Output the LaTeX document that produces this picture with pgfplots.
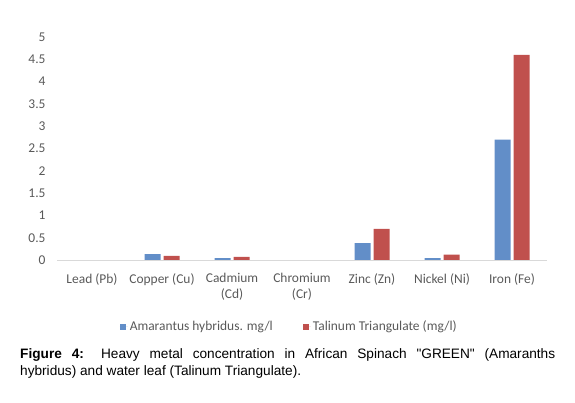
\documentclass[border=0pt]{standalone}
\usepackage{pgfplots}
\pgfplotsset{compat=1.18}
\usepackage{fontspec}
\setmainfont{Carlito}
\newfontfamily\arialfont{Liberation Sans}
\definecolor{barblue}{RGB}{98,142,200}
\definecolor{barred}{RGB}{192,80,77}
\definecolor{txtgray}{RGB}{89,89,89}
\definecolor{axgray}{RGB}{217,217,217}
\begin{document}
\begin{tikzpicture}
\path[use as bounding box] (0bp,0bp) rectangle (575bp,403bp);
\begin{axis}[
    at={(57bp,143bp)}, anchor=south west,
    scale only axis,
    width=490bp, height=223bp,
    xmin=-0.5, xmax=6.5,
    ymin=0, ymax=5,
    ytick={0,0.5,...,5},
    xtick={0,...,6},
    xticklabels={Lead (Pb), Copper (Cu), {Cadmium\\(Cd)}, {Chromium\\(Cr)}, Zinc (Zn), Nickel (Ni), Iron (Fe)},
    ybar=3bp, bar width=16bp,
    y filter/.expression={y==0 ? nan : y},
    separate axis lines,
    axis x line*=bottom, axis y line*=left,
    x axis line style={draw=axgray, line width=0.8bp, -},
    y axis line style={draw=none},
    major tick length=0pt,
    tick style={draw=none},
    font=\fontsize{13.5}{16}\selectfont,
    /pgf/number format/assume math mode=true,
    yticklabel style={text=txtgray, xshift=-8bp},
    xticklabel style={text=txtgray, align=center, anchor=north, yshift=-10bp},
    legend style={at={(0.474,-0.255)}, anchor=north, draw=none, fill=none,
        legend columns=2, text=txtgray,
        /tikz/every even column/.append style={column sep=28bp}},
    legend image code/.code={\fill[#1, draw=none] (0bp,-3bp) rectangle (6bp,3bp); \path (0bp,0bp) -- (8bp,0bp);},
]
\addplot[fill=barblue, draw=none] coordinates {(0,0) (1,0.13) (2,0.04) (3,0) (4,0.38) (5,0.04) (6,2.7)};
\addplot[fill=barred, draw=none] coordinates {(0,0) (1,0.09) (2,0.07) (3,0) (4,0.7) (5,0.12) (6,4.6)};
\legend{Amarantus hybridus. mg/l, Talinum Triangulate (mg/l)}
\end{axis}
\node[anchor=north west, inner sep=0pt, text width=535bp, align=justify,
      font=\arialfont\fontsize{13.7}{17}\selectfont] at (20bp,55bp)
  {\textbf{Figure 4:} Heavy metal concentration in African Spinach "GREEN" (Amaranths\linebreak hybridus) and water leaf (Talinum Triangulate).};
\end{tikzpicture}
\end{document}
